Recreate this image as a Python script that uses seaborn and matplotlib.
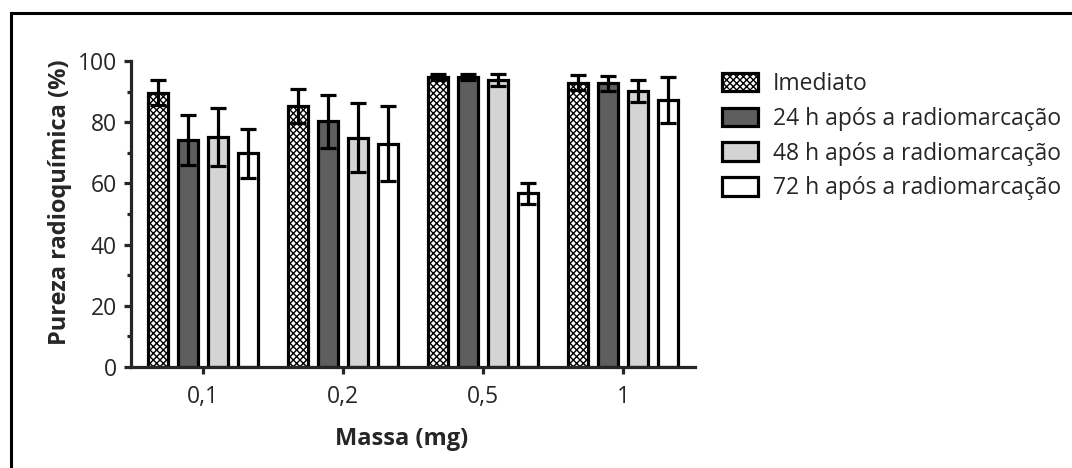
import matplotlib
matplotlib.use("Agg")
import matplotlib.pyplot as plt
from matplotlib.patches import Rectangle
from matplotlib.ticker import MultipleLocator
import seaborn as sns
import pandas as pd
import numpy as np

# ---- data ----
massas = ["0,1", "0,2", "0,5", "1"]
series = ["Imediato", "24 h após a radiomarcação",
          "48 h após a radiomarcação", "72 h após a radiomarcação"]
imediato = [89.7, 85.2, 94.9, 92.9]
h24 = [74.2, 80.3, 94.9, 92.7]
h48 = [75.3, 75.0, 93.8, 90.2]
h72 = [69.8, 73.0, 56.7, 87.4]
err_imediato = [4.1, 5.6, 1.0, 2.5]
err_h24 = [8.2, 8.7, 1.0, 2.4]
err_h48 = [9.5, 11.2, 2.0, 3.5]
err_h72 = [8.1, 12.3, 3.4, 7.5]

means = [imediato, h24, h48, h72]
errs = [err_imediato, err_h24, err_h48, err_h72]
colors = ["#ffffff", "#5e5e5e", "#d4d4d4", "#ffffff"]

rows = []
for s, vals in zip(series, means):
    for m, v in zip(massas, vals):
        rows.append({"Massa": m, "Serie": s, "Valor": v})
df = pd.DataFrame(rows)

sns.set_style("ticks")
plt.rcParams["font.family"] = ["Open Sans", "DejaVu Sans"]
plt.rcParams["hatch.linewidth"] = 1.0

W, H = 1072, 468
fig = plt.figure(figsize=(W / 100, H / 100), dpi=100)
ax_left, ax_right, ax_bot, ax_top = 131, 695, 367, 61
ax = fig.add_axes([ax_left / W, 1 - ax_bot / H, (ax_right - ax_left) / W, (ax_bot - ax_top) / H])

sns.barplot(data=df, x="Massa", y="Valor", hue="Serie", order=massas,
            hue_order=series, palette=colors, errorbar=None, width=0.857,
            gap=0.35, edgecolor="black", linewidth=2.3, ax=ax, legend=False,
            saturation=1)

bar_containers = list(ax.containers)
for i, cont in enumerate(bar_containers):
    xs = []
    for p in cont.patches:
        p.set_edgecolor("black")
        p.set_linewidth(2.3)
        if i == 0:
            p.set_hatch("xxxxx")
        xs.append(p.get_x() + p.get_width() / 2)
    ax.errorbar(xs, means[i], yerr=errs[i], fmt="none", ecolor="black",
                elinewidth=2.3, capsize=5.5, capthick=2.3, zorder=5)

ax.set_ylim(0, 100)
ax.set_xlim(-0.514, 3.514)
ax.yaxis.set_major_locator(MultipleLocator(20))
ax.yaxis.set_minor_locator(MultipleLocator(10))
sns.despine(ax=ax)
for sp in ["left", "bottom"]:
    ax.spines[sp].set_linewidth(2.3)
ax.tick_params(axis="both", which="major", length=5, width=2.3, labelsize=16.5)
ax.tick_params(axis="y", which="major", pad=5)
ax.tick_params(axis="y", which="minor", length=3, width=2.3)
ax.tick_params(axis="x", which="major", pad=8)

ax.set_xlabel("Massa (mg)", fontsize=17, fontweight="bold")
ax.set_ylabel("Pureza radioquímica (%)", fontsize=17, fontweight="bold")
ax.xaxis.set_label_coords((402 - ax_left) / (ax_right - ax_left), -(427 - ax_bot) / (ax_bot - ax_top))
ax.yaxis.set_label_coords((72 - ax_left) / (ax_right - ax_left), (ax_bot - 202) / (ax_bot - ax_top))

leg = ax.legend(bar_containers, series, loc="upper left",
                bbox_to_anchor=(722 / W, 1 - 72 / H), bbox_transform=fig.transFigure,
                frameon=False, fontsize=16.5, handlelength=1.57, handleheight=0.85,
                handletextpad=0.65, labelspacing=0.47, borderpad=0, borderaxespad=0)

fig.patches.append(Rectangle((11 / W, -0.1), 1.5, (H - 13) / H + 0.1,
                             transform=fig.transFigure, fill=False,
                             edgecolor="black", linewidth=2.2, zorder=10))

fig.savefig("out.png", dpi=100)
